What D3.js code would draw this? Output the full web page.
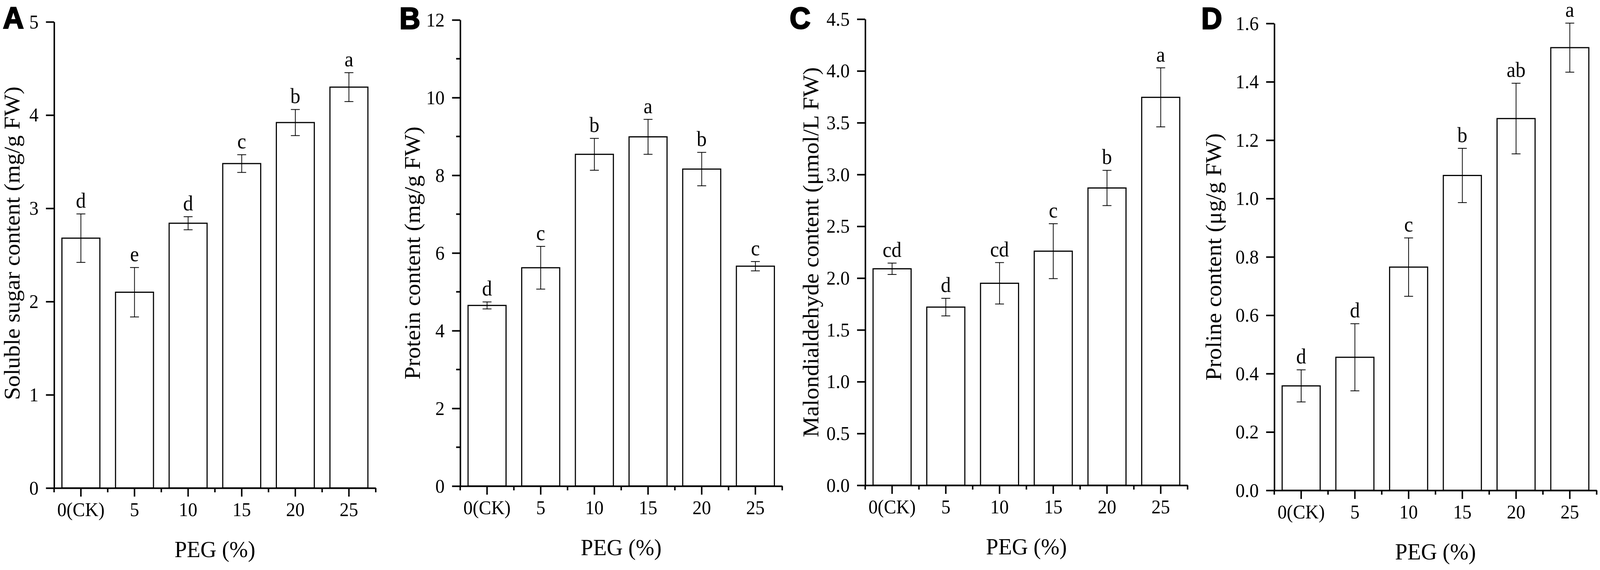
<!DOCTYPE html>
<html>
<head>
<meta charset="utf-8">
<script src="https://cdn.jsdelivr.net/npm/d3@7"></script>
<style>
  html, body { margin: 0; padding: 0; background: #fff; overflow: hidden; width: 100%; height: 100%; }
  #chart { position: absolute; left: 0; top: 0; width: 100vw; height: 100vh; }
  svg { display: block; width: 100%; height: 100%; }
  text { font-family: "Liberation Serif", "Times New Roman", serif; fill: #000; }
</style>
</head>
<body>
<div id="chart"></div>
<script>
// PEG levels (x categories)
const categories = ["0(CK)", "5", "10", "15", "20", "25"];

// A - soluble sugar
const sugarMean = [2.68, 2.10, 2.84, 3.48, 3.92, 4.30];
const sugarErr = [0.26, 0.265, 0.07, 0.095, 0.14, 0.155];
const sugarLetters = ["d", "e", "d", "c", "b", "a"];
const sugarTicks = [0, 1, 2, 3, 4, 5];

// B - protein
const proteinMean = [4.65, 5.62, 8.54, 8.99, 8.16, 5.66];
const proteinErr = [0.09, 0.55, 0.41, 0.45, 0.43, 0.12];
const proteinLetters = ["d", "c", "b", "a", "b", "c"];
const proteinTicks = [0, 2, 4, 6, 8, 10, 12];
const proteinMinor = [1, 3, 5, 7, 9, 11];

// C - malondialdehyde
const mdaMean = [2.09, 1.72, 1.95, 2.26, 2.87, 3.745];
const mdaErr = [0.055, 0.085, 0.2, 0.265, 0.17, 0.285];
const mdaLetters = ["cd", "d", "cd", "c", "b", "a"];
const mdaTicks = [0, 0.5, 1.0, 1.5, 2.0, 2.5, 3.0, 3.5, 4.0, 4.5];

// D - proline
const prolineMean = [0.358, 0.456, 0.765, 1.079, 1.274, 1.517];
const prolineErr = [0.055, 0.115, 0.10, 0.093, 0.121, 0.084];
const prolineLetters = ["d", "d", "c", "b", "ab", "a"];
const prolineTicks = [0, 0.2, 0.4, 0.6, 0.8, 1.0, 1.2, 1.4, 1.6];

const panels = [
  { tag: "A", title: "Soluble sugar content (mg/g FW)", mean: sugarMean, err: sugarErr, letters: sugarLetters,
    ticks: sugarTicks, minor: [], fmt: d3.format("d"),
    x0: 146, x1: 1014, yTop: 56, yBot: 1250, titleX: 53, titleShift: -30, tagX: 8, tagY: 73 },
  { tag: "B", title: "Protein content (mg/g FW)", mean: proteinMean, err: proteinErr, letters: proteinLetters,
    ticks: proteinTicks, minor: proteinMinor, fmt: d3.format("d"),
    x0: 1242, x1: 2111, yTop: 51, yBot: 1245, titleX: 1133, titleShift: 0, tagX: 1078, tagY: 74 },
  { tag: "C", title: "Malondialdehyde content (μmol/L FW)", mean: mdaMean, err: mdaErr, letters: mdaLetters,
    ticks: mdaTicks, minor: [], fmt: d3.format(".1f"),
    x0: 2335, x1: 3205, yTop: 49, yBot: 1243, titleX: 2209, titleShift: 0, tagX: 2131, tagY: 73 },
  { tag: "D", title: "Proline content (μg/g FW)", mean: prolineMean, err: prolineErr, letters: prolineLetters,
    ticks: prolineTicks, minor: [], fmt: d3.format(".1f"),
    x0: 3439, x1: 4309, yTop: 60, yBot: 1256, titleX: 3295, titleShift: 0, tagX: 3242, tagY: 74 }
];

const W = 4318, H = 1460;
const svg = d3.select("#chart").append("svg")
  .attr("viewBox", `0 0 ${W} ${H}`)
  .attr("preserveAspectRatio", "none");

panels.forEach(p => {
  const g = svg.append("g");
  const ymax = p.ticks[p.ticks.length - 1];

  const x = d3.scaleBand()
    .domain(categories)
    .range([p.x0, p.x1])
    .paddingInner(0.292)
    .paddingOuter(0.146);

  const y = d3.scaleLinear()
    .domain([0, ymax])
    .range([p.yBot, p.yTop]);

  const rows = categories.map((c, i) => ({ cat: c, mean: p.mean[i], err: p.err[i], letter: p.letters[i] }));

  // bars
  g.selectAll(".bar")
    .data(rows)
    .enter().append("rect")
    .attr("class", "bar")
    .attr("x", d => x(d.cat))
    .attr("y", d => y(d.mean))
    .attr("width", x.bandwidth())
    .attr("height", d => y(0) - y(d.mean))
    .attr("fill", "#fff")
    .attr("stroke", "#000")
    .attr("stroke-width", 3);

  // error bars
  const cx = d => x(d.cat) + x.bandwidth() / 2;
  const cap = 12;
  const eb = g.selectAll(".err")
    .data(rows)
    .enter().append("g")
    .attr("class", "err")
    .attr("stroke", "#000")
    .attr("stroke-width", 2);
  eb.append("line")
    .attr("x1", cx).attr("x2", cx)
    .attr("y1", d => y(d.mean + d.err))
    .attr("y2", d => y(d.mean - d.err));
  eb.append("line")
    .attr("x1", d => cx(d) - cap).attr("x2", d => cx(d) + cap)
    .attr("y1", d => y(d.mean + d.err)).attr("y2", d => y(d.mean + d.err));
  eb.append("line")
    .attr("x1", d => cx(d) - cap).attr("x2", d => cx(d) + cap)
    .attr("y1", d => y(d.mean - d.err)).attr("y2", d => y(d.mean - d.err));

  // significance letters
  g.selectAll(".letter")
    .data(rows)
    .enter().append("text")
    .attr("class", "letter")
    .attr("x", cx)
    .attr("y", d => y(d.mean + d.err) - 16)
    .attr("text-anchor", "middle")
    .style("font-size", "54px")
    .text(d => d.letter);

  // x axis
  const xAxis = g.append("g")
    .attr("transform", `translate(0,${p.yBot})`)
    .call(d3.axisBottom(x).tickSize(22).tickSizeOuter(0).tickPadding(0));
  xAxis.select(".domain").attr("stroke-width", 4);
  xAxis.selectAll(".tick line").attr("stroke-width", 4);
  xAxis.selectAll(".tick text")
    .attr("y", 72).attr("dy", null)
    .style("font-size", "50px")
    .style("font-family", "Liberation Serif");

  // minor x ticks at category boundaries
  const step = x.step();
  const bounds = d3.range(categories.length + 1).map(k => p.x0 + k * step);
  g.selectAll(".xminor")
    .data(bounds)
    .enter().append("line")
    .attr("x1", d => d).attr("x2", d => d)
    .attr("y1", p.yBot).attr("y2", p.yBot + 11)
    .attr("stroke", "#000").attr("stroke-width", 4);

  // y axis
  const yAxis = g.append("g")
    .attr("transform", `translate(${p.x0},0)`)
    .call(d3.axisLeft(y).tickValues(p.ticks).tickFormat(p.fmt).tickSize(22).tickSizeOuter(0).tickPadding(20));
  yAxis.select(".domain").attr("stroke-width", 4);
  yAxis.selectAll(".tick line").attr("stroke-width", 4);
  yAxis.selectAll(".tick text")
    .style("font-size", "50px")
    .style("font-family", "Liberation Serif");

  g.selectAll(".yminor")
    .data(p.minor)
    .enter().append("line")
    .attr("x1", p.x0).attr("x2", p.x0 - 11)
    .attr("y1", d => y(d)).attr("y2", d => y(d))
    .attr("stroke", "#000").attr("stroke-width", 4);

  // axis titles
  g.append("text")
    .attr("transform", `translate(${p.titleX},${(p.yTop + p.yBot) / 2 + p.titleShift}) rotate(-90)`)
    .attr("text-anchor", "middle")
    .style("font-size", "60px")
    .text(p.title);

  g.append("text")
    .attr("x", (p.x0 + p.x1) / 2)
    .attr("y", p.yBot + 177)
    .attr("text-anchor", "middle")
    .style("font-size", "60px")
    .text("PEG (%)");

  // panel tag
  g.append("text")
    .attr("x", p.tagX)
    .attr("y", p.tagY)
    .style("font-family", "Liberation Sans, Arial, sans-serif")
    .style("font-weight", "bold")
    .style("font-size", "78px")
    .attr("stroke", "#000")
    .attr("stroke-width", 3)
    .text(p.tag);
});
</script>
</body>
</html>
